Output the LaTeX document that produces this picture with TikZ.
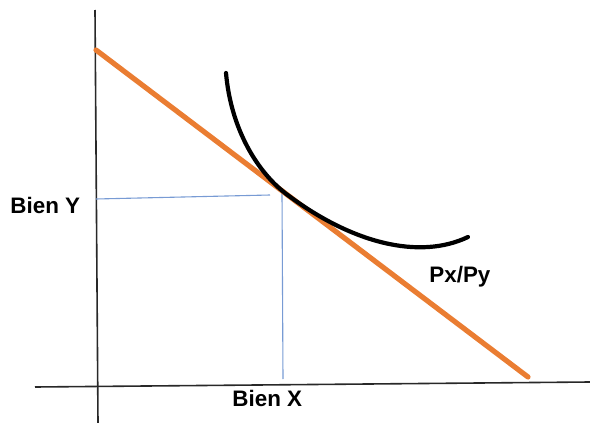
\documentclass[tikz,border=0pt]{standalone}
\usepackage{fontspec}
\newfontfamily\labelfont{Liberation Sans}
\usetikzlibrary{calc}
\definecolor{budget}{RGB}{234,125,50}
\definecolor{guide}{RGB}{120,155,212}
\definecolor{axisgray}{RGB}{40,40,40}

\begin{document}
\begin{tikzpicture}[x=0.5pt, y=-0.5pt,
    axis/.style={axisgray, line width=0.8pt},
    budgetline/.style={budget, line width=2.6pt, line cap=round},
    indiff/.style={black, line width=2.1pt, line cap=round},
    guideline/.style={guide, line width=0.55pt},
    lab/.style={font=\labelfont\bfseries\fontsize{11.2}{13}\selectfont, inner sep=0pt}]
    \useasboundingbox (0,0) rectangle (590,423);

    % Define the axis end points
    \coordinate (YT) at (95, 10); \coordinate (YB) at (98, 423);
    \coordinate (XL) at (35, 387); \coordinate (XR) at (590, 382);

    % Budget line end points and tangency point
    \coordinate (B1) at (96, 50); \coordinate (B2) at (528, 377);
    \coordinate (T) at (285, 193);

    % Curve end points
    \coordinate (C1) at (226, 73); \coordinate (C2) at (468, 237);

    % 1. Axes
    \draw[axis] (YT) -- (YB);
    \draw[axis] (XL) -- (XR);

    % 2. Guide lines (Light Blue)
    \coordinate (GY) at (96, 199); \coordinate (GYe) at (270, 195);
    \coordinate (GXt) at (282, 193); \coordinate (GXb) at (283, 379);
    \draw[guideline] (GY) -- (GYe);
    \draw[guideline] (GXt) -- (GXb);

    % 3. Budget line (Orange)
    \draw[budgetline] (B1) -- (B2);

    % 4. Indifference curve (Black)
    \draw[indiff] (C1) .. controls (231, 130) and (258, 172) .. (T)
        .. controls (352, 244) and (420, 260) .. (C2);

    % 5. Labels
    \node[lab, anchor=base west] (bieny) at (10, 213) {Bien Y};
    \node[lab, anchor=base west] (bienx) at (232, 406) {Bien X};
    \node[lab, anchor=base west] (ratio) at (429, 282) {Px/Py};

\end{tikzpicture}
\end{document}
